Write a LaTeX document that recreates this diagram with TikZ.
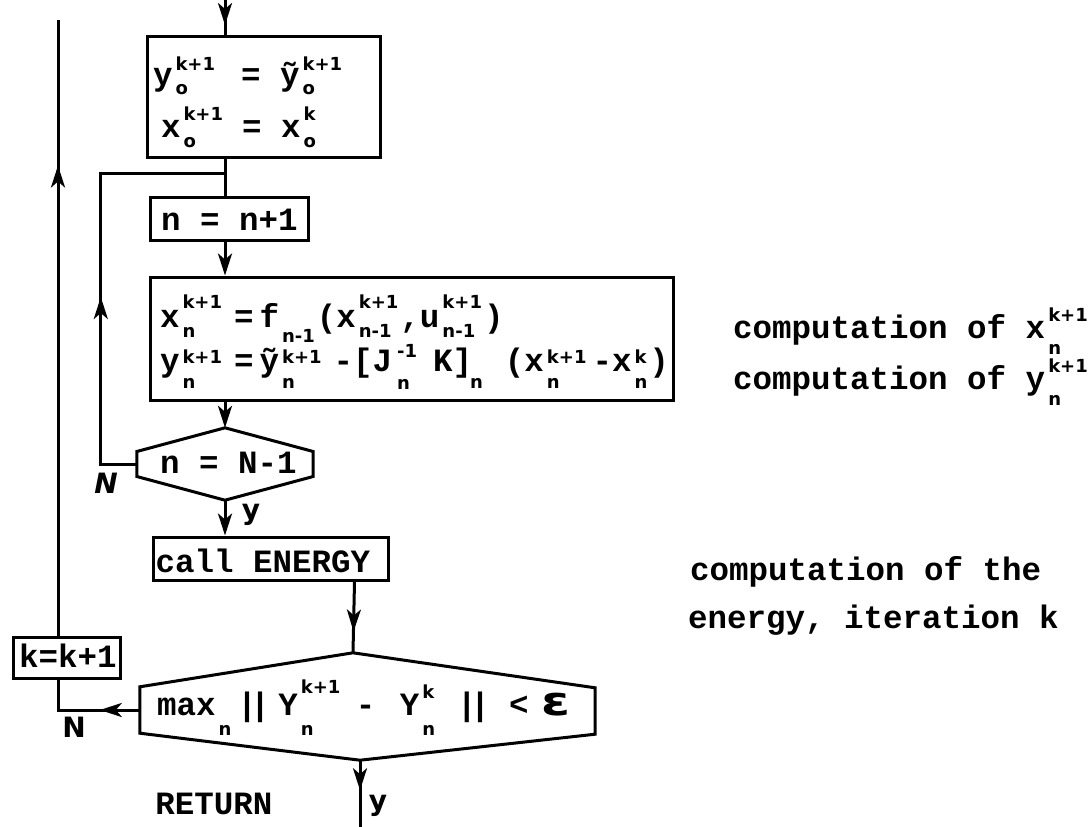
\documentclass[tikz,border=0pt]{standalone}
\usepackage{fontspec}
\usepackage{graphicx}
\usetikzlibrary{arrows.meta,decorations.markings,calc}
\newfontfamily\tw{Liberation Mono}
\newfontfamily\hwfam{DejaVu Sans}
\newcommand\hw{\hwfam\bfseries\fontsize{18}{18}\selectfont}
\newsavebox\supbx
\newsavebox\subbx
\NewDocumentCommand\supsub{O{14pt}O{10pt}mm}{%
  \sbox\supbx{\hw #3}\sbox\subbx{\hw #4}%
  \kern3pt\rlap{\raisebox{#1}{\usebox\supbx}}\raisebox{-#2}{\usebox\subbx}%
  \ifdim\wd\supbx>\wd\subbx\kern\dimexpr\wd\supbx-\wd\subbx\relax\fi\kern2pt\relax}
\newcommand\eps{\scalebox{1.3}[1]{\hwfam\fontsize{40}{40}\selectfont ε}}
\tikzset{
  ln/.style={line width=3pt},
  >={Stealth[length=22pt,width=14pt,inset=6pt]},
  tw/.style={font=\tw\bfseries\fontsize{32.5}{39}\selectfont},
  rbox/.style={tw, draw, line width=3pt, inner sep=0pt},
  hexn/.style={tw, inner sep=0pt},
  lbl/.style={font=\hwfam\bfseries\fontsize{28}{28}\selectfont, inner sep=0pt},
  note/.style={tw, anchor=base west, inner sep=0pt},
  midarrow/.style={postaction={decorate,decoration={markings,mark=at position #1 with {\arrow{>}}}}}
}
\begin{document}
\begin{tikzpicture}[x=1pt,y=-1pt]
\fill[white] (0,0) rectangle (1090,827);
\useasboundingbox (0,0) rectangle (1090,827);
% boxes
\node[rbox, text height=101pt, text depth=20pt] (B1) at (263.5,96.5)
  {\hbox to 233pt{\kern6pt\rlap{\raisebox{52pt}{y\supsub[15pt][9pt]{k+1}{o}\kern24pt= ỹ\supsub[15pt][9pt]{k+1}{o}}}\kern8pt x\supsub[17pt][10pt]{k+1}{o}\kern17pt= x\supsub[17pt][10pt]{k}{o}\hss}};
\node[rbox, text height=33pt, text depth=10pt] (B2) at (229,218.5)
  {\hbox to 158pt{\kern11pt n = n+1\hss}};
\node[rbox, text height=94pt, text depth=29pt] (B3) at (411.5,338.5)
  {\hbox to 523pt{\kern10pt\rlap{\raisebox{44pt}{x\supsub[19pt][10pt]{k+1}{n}\kern10pt=\kern6pt f\supsub[0pt][15pt]{}{n-1}(x\supsub[19pt][10pt]{k+1}{n-1},u\supsub[19pt][10pt]{k+1}{n-1})}}%
   y\supsub[8pt][17pt]{k+1}{n}\kern10pt=\kern6pt ỹ\supsub[8pt][17pt]{k+1}{n}\kern10pt-[J\kern2pt\supsub[14pt][18pt]{-1}{n}\kern14pt K]\kern-5pt\supsub[0pt][17pt]{}{n}\kern20pt(x\supsub[8pt][17pt]{k+1}{n}\kern4pt-x\supsub[8pt][17pt]{k}{n})\hss}};
\node[hexn, text height=45pt, text depth=27pt] (H1) at (225,464)
  {\hbox to 176pt{\kern23pt n = N-1\hss}};
\node[rbox, text height=35pt, text depth=8pt] (B4) at (270.5,558.5)
  {\hbox to 235pt{\kern2.5pt call ENERGY\hss}};
\node[hexn, text height=62pt, text depth=45pt] (H2) at (367.5,706.5)
  {\hbox to 455pt{\kern17pt max\supsub[0pt][20pt]{}{n}\kern4pt|\kern-6.5pt|\kern8.5pt Y\supsub[22pt][20pt]{k+1}{n}\kern13.5pt-\kern24.5pt Y\supsub[17pt][20pt]{k}{n}\kern20pt|\kern-6.5pt|\kern19.5pt<\kern13pt\eps\hss}};
\node[rbox, text height=30pt, text depth=11pt] (B5) at (66.5,657.5)
  {\hbox to 107pt{\kern6pt k=k+1\hss}};
% hexagon outlines
\draw[ln] (H1.north) -- ($(H1.east)+(0,-12.5)$) -- ($(H1.east)+(0,12.5)$) -- (H1.south)
  -- ($(H1.west)+(0,12.5)$) -- ($(H1.west)+(0,-12.5)$) -- cycle;
\coordinate (h2top) at ($(H2.north)+(-14.5,0)$);
\coordinate (h2bot) at ($(H2.south)+(-7.5,0)$);
\draw[ln] (h2top) -- ($(H2.north east)+(0,35)$) -- ($(H2.south east)+(0,-26)$) -- (h2bot)
  -- ($(H2.south west)+(0,-27)$) -- ($(H2.north west)+(0,34)$) -- cycle;
% connectors
\coordinate (entry) at (225,0);
\coordinate (join) at (225,173);
\draw[ln, midarrow=25pt] (entry) -- (entry |- B1.north);
\draw[ln] (entry |- B1.south) -- (entry |- B2.north);
\draw[ln,->] (entry |- B2.south) -- (entry |- B3.north);
\draw[ln,->] (entry |- B3.south) -- (H1.north);
\draw[ln,->] (H1.south) -- (H1.south |- B4.north);
\draw[ln, midarrow=203pt] (H1.west) -- ++(-36,0) |- (join);
\draw[ln, midarrow=50pt] ($(B4.south east)+(-35,0)$) -- (h2top);
\coordinate (exit) at (360,827);
\draw[ln, midarrow=30pt] (h2bot) -- (exit);
\coordinate (h2l) at ($(H2.west)+(0,3.5)$);
\coordinate (kbot) at ($(B5.south)+(-8.5,0)$);
\coordinate (ktop) at ($(B5.north)+(-8.5,0)$);
\coordinate (lend) at (58,20);
\draw[ln, midarrow=40pt] (h2l) -| (kbot);
\draw[ln, midarrow=470pt] (ktop) -- (lend);
% labels
\node[lbl, font=\hwfam\bfseries\itshape\fontsize{28}{28}\selectfont] (nN1) at (106,483) {N};
\node[lbl] (nY1) at (251,515) {y};
\node[lbl] (nN2) at (74,727) {N};
\node[lbl] (nY2) at (378,806) {y};
\node[tw, inner sep=0pt] (ret) at (214,804) {RETURN};
% notes
\node[note] (c1) at (733,338) {computation of x\supsub[17pt][16pt]{k+1}{n}};
\node[note] (c2) at (733,389) {computation of y\supsub[17pt][16pt]{k+1}{n}};
\node[note] (c3) at (690,580) {computation of the};
\node[note] (c4) at (688,628) {energy, iteration k};
\end{tikzpicture}
\end{document}
